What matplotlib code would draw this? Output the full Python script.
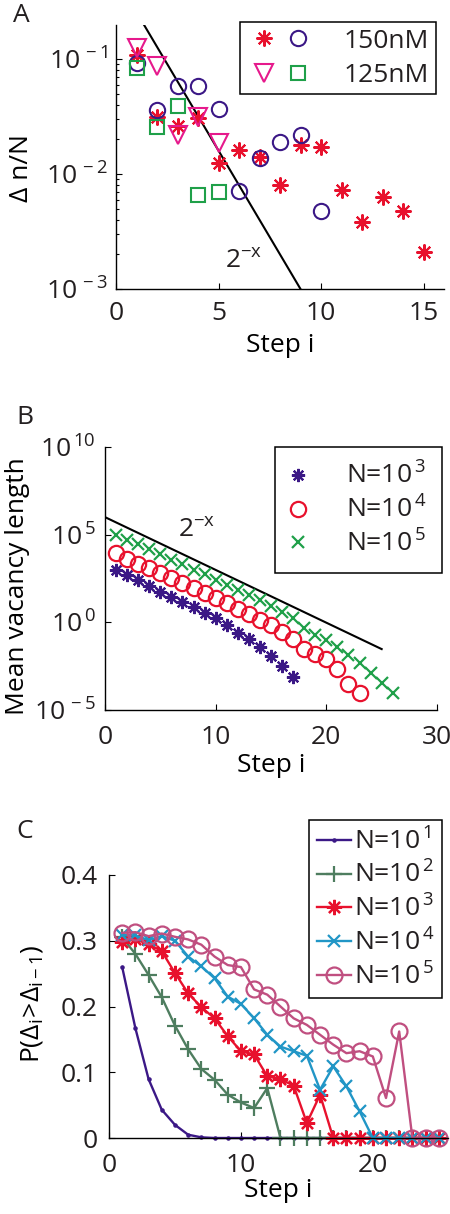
import numpy as np
import matplotlib
matplotlib.use('Agg')
import matplotlib.pyplot as plt
from matplotlib.legend_handler import HandlerTuple
from matplotlib.ticker import FixedLocator, NullLocator

plt.rcParams['font.family'] = ['Open Sans', 'DejaVu Sans']
plt.rcParams['mathtext.fontset'] = 'custom'
plt.rcParams['mathtext.rm'] = 'Open Sans'
plt.rcParams['mathtext.it'] = 'Open Sans:italic'
plt.rcParams['mathtext.bf'] = 'Open Sans:bold'
plt.rcParams['font.size'] = 19
plt.rcParams['text.color'] = '#231f20'
plt.rcParams['xtick.color'] = 'black'
plt.rcParams['ytick.color'] = 'black'
plt.rcParams['xtick.labelcolor'] = '#231f20'
plt.rcParams['ytick.labelcolor'] = '#231f20'
plt.rcParams['xtick.direction'] = 'in'
plt.rcParams['ytick.direction'] = 'in'
plt.rcParams['axes.linewidth'] = 1.0

# %% data, panel A
a_x_150 = [1, 2, 3, 4, 5, 6, 7, 8, 9, 10, 11, 12, 13, 14, 15]
a_star_150 = [0.109, 0.0316, 0.0262, 0.0305, 0.0126, 0.0162, 0.0141, 0.0080,
              0.0179, 0.0173, 0.0072, 0.00384, 0.00634, 0.00478, 0.0021]
a_xc_150 = [1, 2, 3, 4, 5, 6, 7, 8, 9, 10]
a_circ_150 = [0.092, 0.0361, 0.0585, 0.0578, 0.0369, 0.00716, 0.01387,
              0.0189, 0.0219, 0.00478]
a_x_125 = [1, 2, 3, 4, 5]
a_tri_125 = [0.125, 0.0863, 0.0219, 0.0316, 0.0185]
a_sq_125 = [0.0836, 0.0255, 0.0392, 0.00656, 0.00692]
a_fit_x = [1, 9]

# %% data, panel B
b_x3 = list(range(1, 18))
b_n3 = [933, 490, 251, 115, 55, 28.5, 14.1, 7.1, 3.47, 1.66, 0.69, 0.26,
        0.107, 0.037, 0.012, 0.0032, 0.00079]
b_x4 = list(range(1, 24))
b_n4 = [9120, 4370, 2240, 1290, 661, 347, 178, 93, 48, 23, 12, 5.4, 2.8,
        1.45, 0.69, 0.29, 0.107, 0.032, 0.0148, 0.0078, 0.0023, 0.0003,
        0.000089]
b_x5 = list(range(1, 27))
b_n5 = [1.0e5, 5.2e4, 2.9e4, 1.48e4, 7.8e3, 3.8e3, 2.0e3, 1.02e3, 537, 251,
        132, 69, 35.5, 18.6, 8.3, 4.0, 1.66, 0.45, 0.19, 0.098, 0.037,
        0.0135, 0.0046, 0.00123, 0.00036, 0.000098]
b_fit_x = [0, 25]

# %% data, panel C
c_x = list(range(1, 26))
c_n1 = [0.26, 0.167, 0.0896, 0.043, 0.020, 0.005, 0.001, 0, 0, 0, 0, 0, 0,
        0, 0, 0, 0, 0, 0, 0, 0, 0, 0, 0, 0]
c_n2 = [0.305, 0.28, 0.248, 0.214, 0.171, 0.135, 0.105, 0.0886, 0.066,
        0.054, 0.0456, 0.076, 0, 0, 0, 0, 0, 0, 0, 0, 0, 0, 0, 0, 0]
c_n3 = [0.298, 0.302, 0.295, 0.284, 0.251, 0.220, 0.199, 0.182, 0.155,
        0.132, 0.127, 0.094, 0.0896, 0.0795, 0.0228, 0.0658, 0, 0, 0, 0, 0,
        0, 0, 0, 0]
c_n4 = [0.309, 0.308, 0.301, 0.307, 0.300, 0.276, 0.261, 0.243, 0.215,
        0.204, 0.182, 0.157, 0.139, 0.132, 0.125, 0.0734, 0.109, 0.0785,
        0.0405, 0, 0, 0, 0, 0, 0]
c_n5 = [0.312, 0.313, 0.307, 0.311, 0.306, 0.302, 0.294, 0.276, 0.263,
        0.260, 0.226, 0.218, 0.200, 0.182, 0.172, 0.157, 0.142, 0.129,
        0.132, 0.124, 0.0608, 0.162, 0, 0, 0]

RED = '#e8112d'
PURPLE = '#3b1886'
MAGENTA = '#e6198c'
GREEN = '#1fa049'
GRAYGREEN = '#4e7d5f'
BLUE = '#2196c6'
PINK = '#c04f80'
STAR = (8, 2, 0)

W, H = 450, 1214
fig = plt.figure(figsize=(W / 100, H / 100), dpi=100)


def px_axes(left, top, right, bottom):
    return fig.add_axes([left / W, 1 - bottom / H, (right - left) / W, (bottom - top) / H])


def style(ax):
    ax.spines['top'].set_visible(False)
    ax.spines['right'].set_visible(False)
    ax.set_facecolor('none')
    ax.tick_params(which='major', length=4, width=0.8)
    ax.tick_params(which='minor', length=2.5, width=0.8)


def sup(base, e):
    return r'$\mathregular{%s^{\,%s}}$' % (base, e)


def nlab(e):
    # plain "N=10" then a raised exponent, MATLAB style
    return 'N=10' + r'$\mathregular{^{\,%s}}$' % e


# %% Panel A
axA = px_axes(116, 25, 444, 289)
style(axA)
axA.set_yscale('log')
axA.set_xlim(0, 16)
axA.set_ylim(1e-3, 0.198)
fx = np.linspace(a_fit_x[0], a_fit_x[1], 50)
axA.plot(fx, 0.512 * 2.0 ** (-fx), color='black', lw=1.5)
h_s, = axA.plot(a_x_150, a_star_150, ls='none', marker=STAR, ms=11.5, mew=1.5, color=RED)
h_c, = axA.plot(a_xc_150, a_circ_150, ls='none', marker='o', ms=11, mew=1.5,
                mfc='none', mec=PURPLE)
h_t, = axA.plot(a_x_125, a_tri_125, ls='none', marker='v', ms=13, mew=1.5,
                mfc='none', mec=MAGENTA)
h_q, = axA.plot(a_x_125, a_sq_125, ls='none', marker='s', ms=9.5, mew=1.5,
                mfc='none', mec=GREEN)
axA.set_xticks([0, 5, 10, 15])
axA.yaxis.set_major_locator(FixedLocator([1e-3, 1e-2, 1e-1]))
axA.set_yticklabels([sup('10', '-3'), sup('10', '-2'), sup('10', '-1')])
axA.tick_params(axis='x', pad=9)
axA.tick_params(axis='y', pad=6)
axA.text(5.3, 1.52e-3, r'$\mathregular{2^{-x}}$', ha='left', va='baseline')
axA.set_xlabel('Step i', labelpad=5)
axA.set_ylabel('\u0394 n/N')
axA.yaxis.set_label_coords(-0.25, 0.46)
legA = axA.legend([(h_s, h_c), (h_t, h_q)], ['150nM', '125nM'],
                  handler_map={tuple: HandlerTuple(ndivide=None, pad=0)},
                  loc='upper right', bbox_to_anchor=(436 / W, 1 - 22 / H),
                  bbox_transform=fig.transFigure, borderaxespad=0,
                  handlelength=2.6, handletextpad=1.1, borderpad=0.25,
                  labelspacing=0.35, fancybox=False, framealpha=1,
                  edgecolor='black')
legA.get_frame().set_linewidth(1.1)
fig.text(21 / W, 1 - 16 / H, 'A', ha='center', va='center')

# %% Panel B
axB = px_axes(105, 447, 437, 710)
style(axB)
axB.set_yscale('log')
axB.set_xlim(0, 30)
axB.set_ylim(1e-5, 1e10)
bx = np.linspace(b_fit_x[0], b_fit_x[1], 50)
axB.plot(bx, 1e6 * 2.0 ** (-bx), color='black', lw=1.5)
hb3, = axB.plot(b_x3, b_n3, ls='none', marker=STAR, ms=9.5, mew=1.6, color=PURPLE)
hb4, = axB.plot(b_x4, b_n4, ls='none', marker='o', ms=11, mew=1.6, mfc='none', mec=RED)
hb5, = axB.plot(b_x5, b_n5, ls='none', marker='x', ms=8, mew=1.6, color=GREEN)
axB.set_xticks([0, 10, 20, 30])
axB.yaxis.set_major_locator(FixedLocator([1e-5, 1e0, 1e5, 1e10]))
axB.yaxis.set_minor_locator(NullLocator())
axB.set_yticklabels([sup('10', '-5'), sup('10', '0'), sup('10', '5'), sup('10', '10')])
axB.tick_params(axis='x', pad=11)
axB.tick_params(axis='y', pad=7)
axB.text(6.6, 7.4e4, r'$\mathregular{2^{-x}}$', ha='left', va='baseline')
axB.set_xlabel('Step i', labelpad=2)
axB.set_ylabel('Mean vacancy length')
axB.yaxis.set_label_coords(-0.225, 0.47)
legB = axB.legend([hb3, hb4, hb5], [nlab('3'), nlab('4'), nlab('5')],
                  loc='upper right', bbox_to_anchor=(442 / W, 1 - 447 / H),
                  bbox_transform=fig.transFigure, borderaxespad=0,
                  handlelength=0.6, handletextpad=1.5, borderpad=0.6,
                  labelspacing=0.25, fancybox=False, framealpha=1,
                  edgecolor='black')
legB.get_frame().set_linewidth(1.1)
fig.text(25 / W, 1 - 418 / H, 'B', ha='center', va='center')

# %% Panel C
axC = px_axes(109, 875, 448, 1138)
style(axC)
axC.set_xlim(0, 25.7)
axC.set_ylim(0, 0.4)
hc1, = axC.plot(c_x, c_n1, '-', marker='.', ms=4.5, lw=1.7, color=PURPLE, clip_on=False)
hc2, = axC.plot(c_x, c_n2, '-', marker='+', ms=12, mew=1.6, lw=1.7, color=GRAYGREEN, clip_on=False)
hc3, = axC.plot(c_x, c_n3, '-', marker=STAR, ms=11, mew=1.6, lw=1.7, color=RED, clip_on=False)
hc4, = axC.plot(c_x, c_n4, '-', marker='x', ms=9, mew=1.6, lw=1.7, color=BLUE, clip_on=False)
hc5, = axC.plot(c_x, c_n5, '-', marker='o', ms=11.5, mew=1.6, lw=1.7, color=PINK,
                mfc='none', clip_on=False)
axC.set_xticks([0, 10, 20])
axC.set_yticks([0, 0.1, 0.2, 0.3, 0.4])
axC.set_yticklabels(['0', '0.1', '0.2', '0.3', '0.4'])
axC.tick_params(axis='x', pad=11)
axC.tick_params(axis='y', pad=8)
axC.set_xlabel('Step i', labelpad=0)
axC.set_ylabel(r'$\mathregular{P(\Delta_i\!>\!\Delta_{i-1})}$')
axC.yaxis.set_label_coords(-0.19, 0.51)
legC = axC.legend([hc1, hc2, hc3, hc4, hc5],
                  [nlab('1'), nlab('2'), nlab('3'), nlab('4'), nlab('5')],
                  loc='upper right', bbox_to_anchor=(442 / W, 1 - 820 / H),
                  bbox_transform=fig.transFigure, borderaxespad=0,
                  handlelength=1.3, handletextpad=0.1, borderpad=0.3,
                  labelspacing=0.25, fancybox=False, framealpha=1,
                  edgecolor='black')
legC.get_frame().set_linewidth(1.1)
fig.text(25 / W, 1 - 832 / H, 'C', ha='center', va='center')

fig.savefig('out.png', dpi=100, facecolor='white')
